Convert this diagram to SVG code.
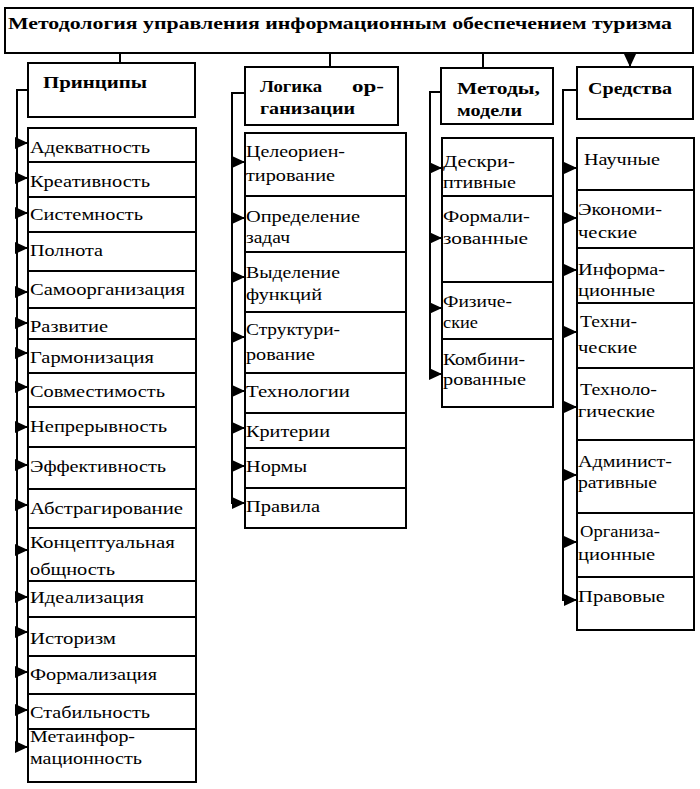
<svg xmlns="http://www.w3.org/2000/svg" width="700" height="789" viewBox="0 0 700 789">
<style>
.box{fill:#fff;stroke:#000;stroke-width:2}
.t{font-family:"Liberation Serif","DejaVu Serif","Times New Roman",serif;font-size:17px;fill:#000}
.b{font-weight:bold}
.ln{fill:none;stroke:#000;stroke-width:2}
</style>
<defs>
<marker id="ar" markerUnits="userSpaceOnUse" markerWidth="13" markerHeight="12" refX="13" refY="6" orient="auto">
<path d="M0,0 L13,6 L0,12 z" fill="#000"/>
</marker>
</defs>
<rect width="700" height="789" fill="#fff"/>

<g id="connectors">
<path class="ln" d="M120,53 V65 M330,53 V67 M483,53 V68 M630,53 V67" marker-end="url(#ar)"/>
<path class="ln" d="M28,90 H17 V748"/>
<path class="ln" d="M245,93 H232 V504"/>
<path class="ln" d="M441,92 H430 V375"/>
<path class="ln" d="M577,90 H563 V601"/>
<g marker-end="url(#ar)" class="ln">
<path d="M17,143 H28"/><path d="M17,178 H28"/><path d="M17,213 H28"/><path d="M17,248 H28"/>
<path d="M17,292 H28"/><path d="M17,323 H28"/><path d="M17,353 H28"/><path d="M17,387 H28"/>
<path d="M17,427 H28"/><path d="M17,465 H28"/><path d="M17,505 H28"/><path d="M17,550 H28"/>
<path d="M17,597 H28"/><path d="M17,632 H28"/><path d="M17,672 H28"/><path d="M17,710 H28"/>
<path d="M17,747 H28"/>
<path d="M232,162 H245"/><path d="M232,218 H245"/><path d="M232,277 H245"/><path d="M232,337 H245"/>
<path d="M232,391 H245"/><path d="M232,428 H245"/><path d="M232,466 H245"/><path d="M232,503 H245"/>
<path d="M430,168 H442"/><path d="M430,238 H442"/><path d="M430,308 H442"/><path d="M430,374 H442"/>
<path d="M563,168 H577"/><path d="M563,218 H577"/><path d="M563,270 H577"/><path d="M563,332 H577"/>
<path d="M563,407 H577"/><path d="M563,475 H577"/><path d="M563,542 H577"/><path d="M563,600 H577"/>
</g>
</g>

<g id="title">
<rect class="box" x="5" y="8" width="688" height="45"/>
<text class="t b" x="8" y="29" textLength="664" lengthAdjust="spacingAndGlyphs">Методология управления информационным обеспечением туризма</text>
</g>

<g id="h-principles">
<rect class="box" x="28" y="63" width="167" height="54"/>
<text class="t b" x="43" y="88" textLength="104" lengthAdjust="spacingAndGlyphs">Принципы</text>
</g>
<g id="h-logic">
<rect class="box" x="245" y="67" width="153" height="58"/>
<text class="t b" x="260" y="92" textLength="62" lengthAdjust="spacingAndGlyphs">Логика</text>
<text class="t b" x="352" y="92" textLength="32" lengthAdjust="spacingAndGlyphs">ор-</text>
<text class="t b" x="260" y="114" textLength="95" lengthAdjust="spacingAndGlyphs">ганизации</text>
</g>
<g id="h-methods">
<rect class="box" x="441" y="68" width="112" height="56"/>
<text class="t b" x="457" y="94" textLength="83" lengthAdjust="spacingAndGlyphs">Методы,</text>
<text class="t b" x="457" y="116" textLength="65" lengthAdjust="spacingAndGlyphs">модели</text>
</g>
<g id="h-means">
<rect class="box" x="577" y="67" width="116" height="52"/>
<text class="t b" x="588" y="94" textLength="84" lengthAdjust="spacingAndGlyphs">Средства</text>
</g>

<g id="p-1"><rect class="box" x="28" y="128" width="168" height="34"/><text class="t" x="30" y="153" textLength="120" lengthAdjust="spacingAndGlyphs">Адекватность</text></g>
<g id="p-2"><rect class="box" x="28" y="162" width="168" height="35"/><text class="t" x="30" y="187" textLength="120" lengthAdjust="spacingAndGlyphs">Креативность</text></g>
<g id="p-3"><rect class="box" x="28" y="197" width="168" height="35"/><text class="t" x="30" y="220" textLength="113" lengthAdjust="spacingAndGlyphs">Системность</text></g>
<g id="p-4"><rect class="box" x="28" y="232" width="168" height="39"/><text class="t" x="30" y="256" textLength="73" lengthAdjust="spacingAndGlyphs">Полнота</text></g>
<g id="p-5"><rect class="box" x="28" y="271" width="168" height="37"/><text class="t" x="30" y="295" textLength="155" lengthAdjust="spacingAndGlyphs">Самоорганизация</text></g>
<g id="p-6"><rect class="box" x="28" y="308" width="168" height="31"/><text class="t" x="30" y="332" textLength="78" lengthAdjust="spacingAndGlyphs">Развитие</text></g>
<g id="p-7"><rect class="box" x="28" y="339" width="168" height="34"/><text class="t" x="30" y="363" textLength="124" lengthAdjust="spacingAndGlyphs">Гармонизация</text></g>
<g id="p-8"><rect class="box" x="28" y="373" width="168" height="34"/><text class="t" x="30" y="397" textLength="135" lengthAdjust="spacingAndGlyphs">Совместимость</text></g>
<g id="p-9"><rect class="box" x="28" y="407" width="168" height="40"/><text class="t" x="30" y="432" textLength="137" lengthAdjust="spacingAndGlyphs">Непрерывность</text></g>
<g id="p-10"><rect class="box" x="28" y="447" width="168" height="42"/><text class="t" x="30" y="472" textLength="136" lengthAdjust="spacingAndGlyphs">Эффективность</text></g>
<g id="p-11"><rect class="box" x="28" y="489" width="168" height="39"/><text class="t" x="30" y="514" textLength="153" lengthAdjust="spacingAndGlyphs">Абстрагирование</text></g>
<g id="p-12"><rect class="box" x="28" y="528" width="168" height="53"/><text class="t" x="30" y="548" textLength="145" lengthAdjust="spacingAndGlyphs">Концептуальная</text><text class="t" x="30" y="575" textLength="85" lengthAdjust="spacingAndGlyphs">общность</text></g>
<g id="p-13"><rect class="box" x="28" y="581" width="168" height="36"/><text class="t" x="30" y="603" textLength="114" lengthAdjust="spacingAndGlyphs">Идеализация</text></g>
<g id="p-14"><rect class="box" x="28" y="617" width="168" height="39"/><text class="t" x="30" y="644" textLength="86" lengthAdjust="spacingAndGlyphs">Историзм</text></g>
<g id="p-15"><rect class="box" x="28" y="656" width="168" height="38"/><text class="t" x="30" y="680" textLength="127" lengthAdjust="spacingAndGlyphs">Формализация</text></g>
<g id="p-16"><rect class="box" x="28" y="694" width="168" height="35"/><text class="t" x="30" y="718" textLength="120" lengthAdjust="spacingAndGlyphs">Стабильность</text></g>
<g id="p-17"><rect class="box" x="28" y="729" width="168" height="53"/><text class="t" x="30" y="742" textLength="105" lengthAdjust="spacingAndGlyphs">Метаинфор-</text><text class="t" x="30" y="764" textLength="112" lengthAdjust="spacingAndGlyphs">мационность</text></g>

<g id="l-1"><rect class="box" x="245" y="133" width="161" height="63"/><text class="t" x="246" y="157" textLength="99" lengthAdjust="spacingAndGlyphs">Целеориен-</text><text class="t" x="246" y="181" textLength="89" lengthAdjust="spacingAndGlyphs">тирование</text></g>
<g id="l-2"><rect class="box" x="245" y="196" width="161" height="56"/><text class="t" x="246" y="222" textLength="114" lengthAdjust="spacingAndGlyphs">Определение</text><text class="t" x="246" y="243" textLength="44" lengthAdjust="spacingAndGlyphs">задач</text></g>
<g id="l-3"><rect class="box" x="245" y="252" width="161" height="60"/><text class="t" x="246" y="278" textLength="94" lengthAdjust="spacingAndGlyphs">Выделение</text><text class="t" x="246" y="300" textLength="76" lengthAdjust="spacingAndGlyphs">функций</text></g>
<g id="l-4"><rect class="box" x="245" y="312" width="161" height="61"/><text class="t" x="246" y="335" textLength="94" lengthAdjust="spacingAndGlyphs">Структури-</text><text class="t" x="246" y="360" textLength="69" lengthAdjust="spacingAndGlyphs">рование</text></g>
<g id="l-5"><rect class="box" x="245" y="373" width="161" height="40"/><text class="t" x="246" y="397" textLength="104" lengthAdjust="spacingAndGlyphs">Технологии</text></g>
<g id="l-6"><rect class="box" x="245" y="413" width="161" height="35"/><text class="t" x="246" y="437" textLength="84" lengthAdjust="spacingAndGlyphs">Критерии</text></g>
<g id="l-7"><rect class="box" x="245" y="448" width="161" height="40"/><text class="t" x="246" y="472" textLength="61" lengthAdjust="spacingAndGlyphs">Нормы</text></g>
<g id="l-8"><rect class="box" x="245" y="488" width="161" height="40"/><text class="t" x="246" y="512" textLength="74" lengthAdjust="spacingAndGlyphs">Правила</text></g>

<g id="m-1"><rect class="box" x="442" y="138" width="111" height="58"/><text class="t" x="443" y="167" textLength="72" lengthAdjust="spacingAndGlyphs">Дескри-</text><text class="t" x="443" y="188" textLength="73" lengthAdjust="spacingAndGlyphs">птивные</text></g>
<g id="m-2"><rect class="box" x="442" y="196" width="111" height="86"/><text class="t" x="443" y="222" textLength="87" lengthAdjust="spacingAndGlyphs">Формали-</text><text class="t" x="443" y="244" textLength="85" lengthAdjust="spacingAndGlyphs">зованные</text></g>
<g id="m-3"><rect class="box" x="442" y="282" width="111" height="57"/><text class="t" x="443" y="307" textLength="69" lengthAdjust="spacingAndGlyphs">Физиче-</text><text class="t" x="443" y="328" textLength="35" lengthAdjust="spacingAndGlyphs">ские</text></g>
<g id="m-4"><rect class="box" x="442" y="339" width="111" height="68"/><text class="t" x="443" y="365" textLength="82" lengthAdjust="spacingAndGlyphs">Комбини-</text><text class="t" x="443" y="385" textLength="83" lengthAdjust="spacingAndGlyphs">рованные</text></g>

<g id="s-1"><rect class="box" x="577" y="138" width="117" height="52"/><text class="t" x="584" y="165" textLength="76" lengthAdjust="spacingAndGlyphs">Научные</text></g>
<g id="s-2"><rect class="box" x="577" y="190" width="117" height="58"/><text class="t" x="578" y="215" textLength="84" lengthAdjust="spacingAndGlyphs">Экономи-</text><text class="t" x="578" y="238" textLength="59" lengthAdjust="spacingAndGlyphs">ческие</text></g>
<g id="s-3"><rect class="box" x="577" y="248" width="117" height="55"/><text class="t" x="578" y="275" textLength="87" lengthAdjust="spacingAndGlyphs">Информа-</text><text class="t" x="578" y="296" textLength="77" lengthAdjust="spacingAndGlyphs">ционные</text></g>
<g id="s-4"><rect class="box" x="577" y="303" width="117" height="65"/><text class="t" x="580" y="327" textLength="57" lengthAdjust="spacingAndGlyphs">Техни-</text><text class="t" x="578" y="353" textLength="59" lengthAdjust="spacingAndGlyphs">ческие</text></g>
<g id="s-5"><rect class="box" x="577" y="368" width="117" height="72"/><text class="t" x="580" y="395" textLength="77" lengthAdjust="spacingAndGlyphs">Техноло-</text><text class="t" x="578" y="417" textLength="77" lengthAdjust="spacingAndGlyphs">гические</text></g>
<g id="s-6"><rect class="box" x="577" y="440" width="117" height="73"/><text class="t" x="578" y="467" textLength="94" lengthAdjust="spacingAndGlyphs">Админист-</text><text class="t" x="578" y="488" textLength="79" lengthAdjust="spacingAndGlyphs">ративные</text></g>
<g id="s-7"><rect class="box" x="577" y="513" width="117" height="64"/><text class="t" x="580" y="537" textLength="80" lengthAdjust="spacingAndGlyphs">Организа-</text><text class="t" x="578" y="560" textLength="77" lengthAdjust="spacingAndGlyphs">ционные</text></g>
<g id="s-8"><rect class="box" x="577" y="577" width="117" height="53"/><text class="t" x="578" y="602" textLength="87" lengthAdjust="spacingAndGlyphs">Правовые</text></g>
</svg>
